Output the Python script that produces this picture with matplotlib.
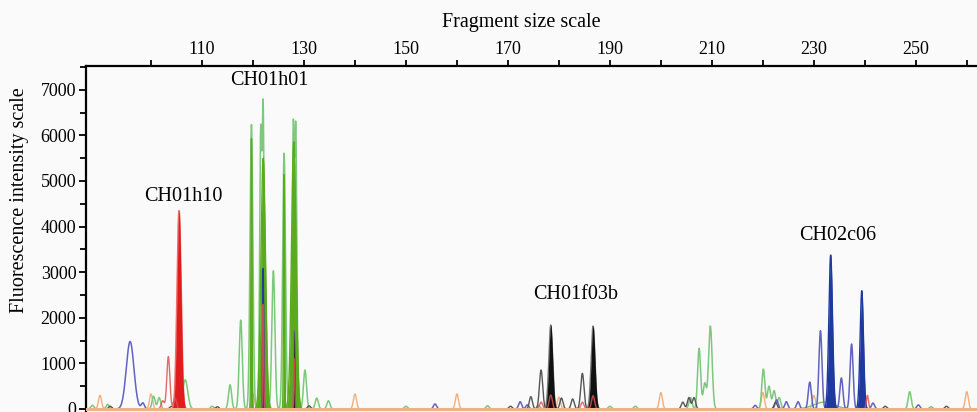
import numpy as np
import matplotlib
matplotlib.use("Agg")
import matplotlib.pyplot as plt
from matplotlib.ticker import MultipleLocator, FixedLocator

# ---------------- data (fragment size, peak height, peak width) ----------------
blue_light_pos = [95.9, 98.4, 155.7, 172.4, 173.8, 218.5, 222.7, 224.6, 226.9, 229.2, 231.3, 235.4, 237.4, 241.6, 250.5]
blue_light_h   = [1480, 130, 110, 160, 90, 80, 200, 160, 160, 590, 1717, 680, 1425, 130, 90]
blue_light_w   = [0.75, 0.3, 0.3, 0.3, 0.3, 0.3, 0.3, 0.3, 0.3, 0.3, 0.3, 0.3, 0.3, 0.3, 0.3]

blue_dark_pos = [122.0, 233.3, 239.4]
blue_dark_h   = [3090, 3377, 2595]
blue_dark_w   = [0.1, 0.36, 0.33]

green_light_pos = [88.5, 91.5, 100.5, 101.6, 106.7, 112.0, 115.5, 117.6, 119.7, 121.5, 122.0, 124.0,
                   126.1, 127.9, 128.4, 130.2, 132.5, 134.8, 150.0, 166.0, 176.0, 190.0, 195.0,
                   205.8, 207.5, 208.6, 209.7, 220.1, 221.2, 222.2, 223.2, 232.0, 248.8, 253.0]
green_light_h   = [80, 100, 280, 250, 640, 60, 530, 1950, 6240, 5900, 6500, 3030,
                   5610, 6050, 6000, 855, 240, 180, 60, 70, 80, 60, 60,
                   250, 1330, 560, 1820, 877, 500, 400, 250, 150, 380, 50]
green_light_w   = [0.3, 0.3, 0.3, 0.3, 0.5, 0.3, 0.3, 0.3, 0.28, 0.2, 0.2, 0.3,
                   0.28, 0.2, 0.2, 0.3, 0.3, 0.3, 0.3, 0.3, 0.3, 0.3, 0.3,
                   0.3, 0.3, 0.3, 0.35, 0.3, 0.3, 0.3, 0.3, 2.0, 0.3, 0.3]

green_dark_pos = [119.7, 122.0, 126.1, 128.0]
green_dark_h   = [5940, 5500, 5150, 5860]
green_dark_w   = [0.1, 0.45, 0.1, 0.45]

red_dark_pos = [105.5]
red_dark_h   = [4350]
red_dark_w   = [0.4]

red_light_pos = [102.3, 103.4, 104.7, 122.0, 128.1, 176.5, 178.4, 184.6, 186.7, 240.5]
red_light_h   = [180, 1150, 240, 2300, 1100, 150, 307, 150, 290, 300]
red_light_w   = [0.3, 0.3, 0.3, 0.1, 0.1, 0.3, 0.3, 0.3, 0.3, 0.2]

black_dark_pos = [128.1, 178.4, 186.7]
black_dark_h   = [1730, 1842, 1820]
black_dark_w   = [0.1, 0.38, 0.38]

black_light_pos = [92.0, 104.0, 113.0, 131.0, 170.5, 174.5, 176.5, 180.5, 182.7, 184.6, 204.3, 205.5, 206.5, 222.5, 244.0, 256.0]
black_light_h   = [60, 60, 50, 70, 60, 270, 855, 240, 220, 782, 150, 250, 250, 150, 60, 60]
black_light_w   = [0.3, 0.3, 0.3, 0.3, 0.3, 0.3, 0.32, 0.3, 0.3, 0.32, 0.3, 0.3, 0.3, 0.3, 0.3, 0.3]

orange_pos = [90, 100, 120, 140, 160, 180, 200, 220, 230, 260]
orange_h   = [300, 330, 330, 330, 330, 260, 360, 360, 300, 380]
orange_w   = [0.3] * 10

marker_names = ["CH01h10", "CH01h01", "CH01f03b", "CH02c06"]
marker_x     = [106.3, 123.3, 183.3, 234.7]
marker_y     = [4671, 7210, 2500, 3794]

x_ticks_labeled = [110, 130, 150, 170, 190, 210, 230, 250]
y_ticks = [0, 1000, 2000, 3000, 4000, 5000, 6000, 7000]

# ---------------- drawing ----------------
FONT = "Liberation Serif"
plt.rcParams["font.family"] = [FONT, "DejaVu Serif"]

xs = np.linspace(86, 263, 12000)


def trace(pos, h, w):
    y = np.zeros_like(xs)
    for p, a, s in zip(pos, h, w):
        y += a * np.exp(-0.5 * ((xs - p) / s) ** 2)
    return y


fig = plt.figure(figsize=(9.77, 4.12), dpi=100, facecolor="#fafafa")
ax = fig.add_axes([86 / 977, 0.0, 1 - 86 / 977, 1 - 66 / 412])
ax.set_facecolor("#fafafa")

# orange size standard
ax.plot(xs, trace(orange_pos, orange_h, orange_w), color="#f4ae78", lw=1.0, zorder=1)
# green
ax.plot(xs, trace(green_light_pos, green_light_h, green_light_w), color="#7cc87c", lw=1.1, zorder=2)
gd = trace(green_dark_pos, green_dark_h, green_dark_w)
ax.fill_between(xs, 0, gd, color="#5aaa1e", lw=0, zorder=3)
ax.plot(xs, gd, color="#5aaa1e", lw=1.0, zorder=3)
# blue
ax.plot(xs, trace(blue_light_pos, blue_light_h, blue_light_w), color="#6262c2", lw=1.1, zorder=4)
bd = trace(blue_dark_pos, blue_dark_h, blue_dark_w)
ax.fill_between(xs, 0, bd, color="#1f3a9e", lw=0, zorder=5)
ax.plot(xs, bd, color="#1f3a9e", lw=1.0, zorder=5)
# black
ax.plot(xs, trace(black_light_pos, black_light_h, black_light_w), color="#555555", lw=1.0, zorder=6)
kd = trace(black_dark_pos, black_dark_h, black_dark_w)
ax.fill_between(xs, 0, kd, color="#111111", lw=0, zorder=7)
ax.plot(xs, kd, color="#777777", lw=1.0, zorder=6.5)
# red
rd = trace(red_dark_pos, red_dark_h, red_dark_w)
ax.plot(xs, rd, color="#f07070", lw=1.2, zorder=7.5)
ax.fill_between(xs, 0, rd, color="#e01c1c", lw=0, zorder=8)
ax.plot(xs, trace(red_light_pos, red_light_h, red_light_w), color="#e05050", lw=1.0, alpha=0.85, zorder=8)

# baseline
ax.axhline(0, color="#e8b48a", lw=2.2, zorder=9)

for name, xm, ym in zip(marker_names, marker_x, marker_y):
    ax.text(xm, ym, name, ha="center", va="center", fontsize=14.5, fontfamily=FONT, zorder=10)

ax.set_xlim(87.25, 262.0)
ax.set_ylim(-66, 7522)

# spines
for s in ["bottom", "right"]:
    ax.spines[s].set_visible(False)
for s in ["left", "top"]:
    ax.spines[s].set_linewidth(1.6)

ax.xaxis.tick_top()
ax.xaxis.set_major_locator(FixedLocator(list(range(100, 261, 10))))
ax.set_xticklabels([str(v) if v in x_ticks_labeled else "" for v in range(100, 261, 10)])
ax.tick_params(axis="x", which="major", direction="out", length=4, width=1.3, pad=2, labelsize=13)

ax.set_yticks(y_ticks)
ax.set_yticklabels([str(v) for v in y_ticks])
ax.yaxis.set_minor_locator(MultipleLocator(500))
ax.tick_params(axis="y", which="major", direction="out", length=5, width=1.3, pad=2, labelsize=13)
ax.tick_params(axis="y", which="minor", direction="out", length=4, width=1.3)
for lab in ax.get_xticklabels() + ax.get_yticklabels():
    lab.set_fontfamily(FONT)

fig.text(521 / 977, 1 - 22 / 412, "Fragment size scale", ha="center", va="center", fontsize=14.5, fontfamily=FONT)
fig.text(20 / 977, 1 - 200 / 412, "Fluorescence intensity scale", ha="center", va="center",
         rotation=90, fontsize=14.5, fontfamily=FONT)

fig.savefig("out.png", dpi=100, facecolor=fig.get_facecolor())
